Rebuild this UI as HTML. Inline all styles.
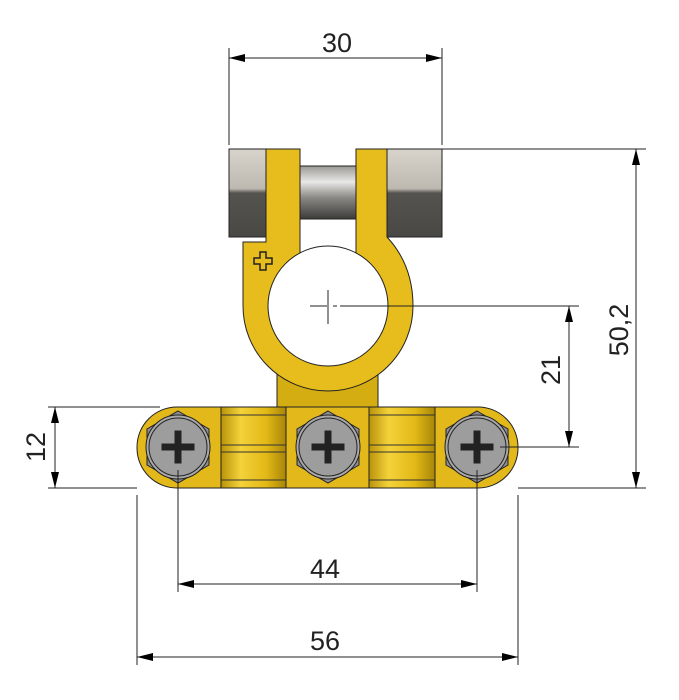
<!DOCTYPE html>
<html><head><style>body{margin:0;background:#fff}svg{display:block}</style></head><body>
<svg width="679" height="700" viewBox="0 0 679 700" xmlns="http://www.w3.org/2000/svg">
<defs>
<marker id="a" viewBox="0 0 16 8" refX="16" refY="4" markerWidth="16" markerHeight="8" orient="auto-start-reverse" markerUnits="userSpaceOnUse"><path d="M0,0L16,4L0,8z" fill="#000"/></marker>
<linearGradient id="nut" x1="0" y1="0" x2="0" y2="1"><stop offset="0" stop-color="#d8d4cc"/><stop offset=".45" stop-color="#bdb8b0"/><stop offset=".5" stop-color="#55534f"/><stop offset="1" stop-color="#4a4845"/></linearGradient>
<linearGradient id="rod" x1="0" y1="0" x2="0" y2="1"><stop offset="0" stop-color="#9a9894"/><stop offset=".3" stop-color="#e8e8e6"/><stop offset=".6" stop-color="#8a8884"/><stop offset="1" stop-color="#3c3b39"/></linearGradient>
<linearGradient id="cyl" x1="0" y1="0" x2="1" y2="0"><stop offset="0" stop-color="#b8930a"/><stop offset=".3" stop-color="#f4d23a"/><stop offset=".7" stop-color="#e2b816"/><stop offset="1" stop-color="#a88608"/></linearGradient>
</defs>
<g stroke="#222" stroke-width="1">
<rect x="229" y="149" width="37" height="88" fill="url(#nut)"/>
<rect x="387" y="149" width="55" height="88" fill="url(#nut)"/>
<rect x="300" y="166" width="56" height="53" fill="url(#rod)"/>
<rect x="277" y="365" width="101" height="44" fill="#d4ad12"/>
<path d="M266,149H300V306H356V149H387V237Q413,265 413,306A85,85 0 0 1 243,306V242H266Z" fill="#e6bd1c"/>
<circle cx="328" cy="306" r="60" fill="#fff"/>
<rect x="137" y="407" width="381" height="81" rx="40" fill="#e2b81a"/>
<rect x="221" y="407" width="65" height="81" fill="url(#cyl)"/>
<rect x="369" y="407" width="66" height="81" fill="url(#cyl)"/>
</g>
<g stroke="#333" stroke-width="1" fill="none">
<path d="M221,415H286M221,445H286M221,452H286M221,480H286M369,415H435M369,445H435M369,452H435M369,480H435"/>
</g>
<path d="M254,258h6v-6h6v6h6v6h-6v6h-6v-6h-6z" fill="none" stroke="#222" stroke-width="1.5"/>
<g stroke="#222" stroke-width="1">
<g transform="translate(178,447)"><polygon points="0,-36 31,-18 31,18 0,36 -31,18 -31,-18" fill="#8e8e94"/><circle r="32" fill="#a9a9a9"/><circle r="29" fill="#9d9d9d"/><path d="M-3,-16h6v13h13v6h-13v13h-6v-13h-13v-6h13z" fill="#222"/></g>
<g transform="translate(328,447)"><polygon points="0,-36 31,-18 31,18 0,36 -31,18 -31,-18" fill="#8e8e94"/><circle r="32" fill="#a9a9a9"/><circle r="29" fill="#9d9d9d"/><path d="M-3,-16h6v13h13v6h-13v13h-6v-13h-13v-6h13z" fill="#222"/></g>
<g transform="translate(477,447)"><polygon points="0,-36 31,-18 31,18 0,36 -31,18 -31,-18" fill="#8e8e94"/><circle r="32" fill="#a9a9a9"/><circle r="29" fill="#9d9d9d"/><path d="M-3,-16h6v13h13v6h-13v13h-6v-13h-13v-6h13z" fill="#222"/></g>
</g>
<path d="M310,306h17M333,306h4M328,290v34" stroke="#222" stroke-width="1"/>
<g stroke="#222" stroke-width="1" fill="none">
<path d="M229,48V145M442,48V145"/>
<path d="M229,58H442" marker-start="url(#a)" marker-end="url(#a)"/>
<path d="M442,149H646M518,488H646"/>
<path d="M636,149V488" marker-start="url(#a)" marker-end="url(#a)"/>
<path d="M340,306H579M500,447H579"/>
<path d="M569,306V447" marker-start="url(#a)" marker-end="url(#a)"/>
<path d="M48,407H160M48,488H137"/>
<path d="M55,407V488" marker-start="url(#a)" marker-end="url(#a)"/>
<path d="M178,470V592M477,470V592"/>
<path d="M178,584H477" marker-start="url(#a)" marker-end="url(#a)"/>
<path d="M137,495V665M518,495V665"/>
<path d="M137,657H518" marker-start="url(#a)" marker-end="url(#a)"/>
</g>
<g font-family="Liberation Sans, sans-serif" font-size="27" fill="#222" text-anchor="middle">
<text x="337" y="52">30</text>
<text x="325" y="578">44</text>
<text x="325" y="650">56</text>
<text transform="translate(628,330) rotate(-90)">50,2</text>
<text transform="translate(560,370) rotate(-90)">21</text>
<text transform="translate(45,447) rotate(-90)">12</text>
</g>
</svg>
</body></html>
